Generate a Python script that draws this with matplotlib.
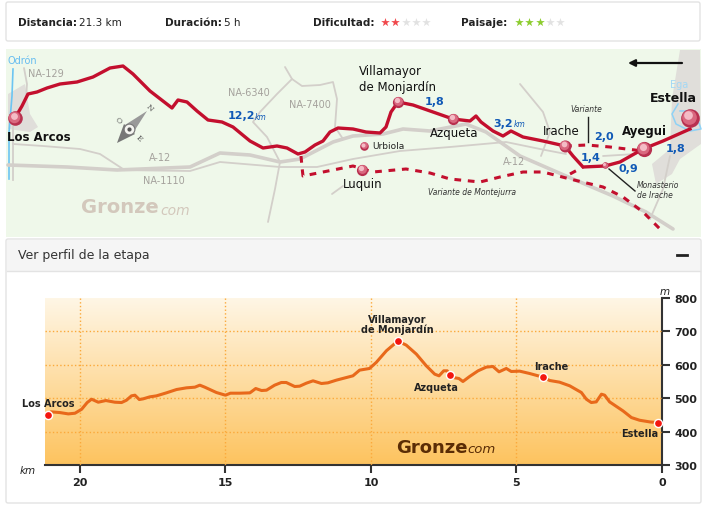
import numpy as np
import matplotlib
matplotlib.use("Agg")
import matplotlib.pyplot as plt
from matplotlib.patches import FancyBboxPatch, Rectangle, Polygon

W, H = 706, 510

# elevation profile, distance to Estella [km] and altitude [m]
profile_km = [20.97, 20.69, 20.40, 20.17, 19.94, 19.75, 19.60, 19.37, 19.11, 18.80, 18.57, 18.40, 18.23,
              18.11, 17.96, 17.83, 17.60, 17.37, 17.03, 16.68, 16.34, 16.05, 15.88, 15.71, 15.31, 15.00,
              14.83, 14.51, 14.16, 13.96, 13.76, 13.59, 13.31, 13.08, 12.91, 12.62, 12.45, 12.22, 11.99,
              11.70, 11.48, 11.19, 10.62, 10.39, 10.05, 9.82, 9.47, 9.08, 8.79, 8.44, 8.10, 7.81, 7.66,
              7.50, 7.38, 7.30, 7.18, 6.98, 6.84, 6.61, 6.32, 6.04, 5.81, 5.60, 5.35, 5.18, 4.89, 4.55,
              4.09, 3.86, 3.52, 3.17, 2.77, 2.60, 2.43, 2.26, 2.08, 1.97, 1.80, 1.34, 1.05, 0.77, 0.42, 0.14]
profile_m = [459, 457, 453, 455, 467, 487, 497, 488, 493, 488, 487, 494, 507,
             509, 496, 498, 504, 507, 516, 526, 531, 533, 539, 533, 517, 509,
             515, 515, 516, 529, 523, 524, 539, 547, 547, 535, 536, 545, 552,
             544, 546, 554, 567, 584, 589, 607, 642, 671, 659, 632, 597, 572, 567,
             582, 582, 570, 562, 559, 550, 565, 582, 593, 595, 579, 589, 580, 581, 574,
             563, 553, 548, 537, 517, 497, 487, 489, 512, 509, 489, 462, 442, 434, 429, 427]
stop_km = [21.09, 9.08, 7.30, 4.09, 0.14]
stop_m = [449, 671, 570, 563, 427]
km_ticks = [20, 15, 10, 5, 0]
m_ticks = [300, 400, 500, 600, 700, 800]

# map lines in picture pixels
route_x = [15, 22, 28, 37, 47, 60, 77, 93, 110, 123, 133, 150, 172, 178, 187, 197, 208, 222, 233, 250, 263,
           277, 287, 298, 305, 315, 323, 330, 338, 353, 366, 380, 386, 391, 398, 413, 433, 453, 470, 476,
           481, 493, 503, 511, 523, 543, 565, 573, 583, 605, 620, 643, 663, 690]
route_y = [119, 107, 95, 93, 89, 85, 83, 78, 69, 67, 75, 92, 109, 101, 103, 112, 121, 123, 128, 142, 149,
           147, 149, 155, 153, 146, 142, 133, 129, 130, 133, 134, 128, 113, 103, 106, 113, 120, 122, 117,
           123, 132, 137, 132, 138, 142, 147, 157, 168, 167, 163, 150, 142, 130]
montejurra_x = [301, 302, 303, 353, 373, 406, 430, 450, 480, 500, 523, 543, 570, 603, 623, 643, 660]
montejurra_y = [157, 168, 177, 167, 173, 170, 174, 180, 183, 178, 173, 173, 180, 188, 198, 213, 230]
variante_x = [565, 587, 610, 643]
variante_y = [147, 146, 148, 152]
link_x = [570, 583]
link_y = [175, 168]
a12_x = [8, 67, 117, 190, 220, 250, 280, 300, 333, 353, 383, 403, 430, 466, 486, 520, 566, 613, 646, 673]
a12_y = [166, 168, 171, 168, 154, 156, 163, 160, 143, 137, 135, 130, 132, 125, 133, 157, 177, 197, 213, 230]
na1110_x = [117, 190, 220, 280, 317, 353, 400, 450, 506, 540, 566]
na1110_y = [171, 172, 163, 168, 168, 160, 152, 148, 143, 150, 155]
upper_x = [13, 43, 80, 100, 123]
upper_y = [145, 147, 150, 155, 170]
na129_x = [24, 27, 26]
na129_y = [69, 85, 100]
na6340_x = [285, 292, 277, 260, 253, 267, 280, 275, 268]
na6340_y = [68, 80, 95, 113, 123, 138, 163, 190, 223]
na7400_x = [292, 302, 320, 333, 337, 335, 343]
na7400_y = [80, 87, 86, 83, 100, 128, 140]
urbiola_x = [332, 343]
urbiola_y = [195, 187]
forest_x = [520, 543, 550, 541]
forest_y = [85, 113, 133, 157]
east_x = [670, 663, 650]
east_y = [157, 190, 220]
ayegui_x = [603, 636]
ayegui_y = [157, 155]
los_arcos_x = [8, 25, 30, 38, 30, 8]
los_arcos_y = [95, 85, 115, 128, 133, 130]
estella_x = [680, 700, 701, 680, 672, 656, 652, 670, 672]
estella_y = [51, 51, 145, 160, 175, 185, 165, 150, 100]

fig = plt.figure(figsize=(W / 100, H / 100), dpi=100, facecolor="white")
bg = fig.add_axes([0, 0, 1, 1])
bg.set_xlim(0, W)
bg.set_ylim(H, 0)
bg.axis("off")


def panel(x0, y0, x1, y1, fc="white"):
    bg.add_patch(FancyBboxPatch((x0, y0), x1 - x0, y1 - y0, boxstyle="round,pad=0,rounding_size=2",
                                fc=fc, ec="#e3e3e3", lw=1))


def ball(x, y, size):
    bg.scatter([x], [y], s=size, color="#b8304f", zorder=6, lw=0)
    bg.scatter([x - 0.06 * size ** 0.5], [y - 0.1 * size ** 0.5], s=size * 0.62, color="#d9687f", zorder=7, lw=0)
    bg.scatter([x - 0.12 * size ** 0.5], [y - 0.2 * size ** 0.5], s=size * 0.22, color="#f4bcc6", zorder=8, lw=0)


# header box
panel(6, 3, 700, 42)
row = dict(fontsize=7.5, va="center", color="#222222")
bg.text(18, 23, "Distancia:", fontweight="bold", **row)
bg.text(79, 23, "21.3 km", **row)
bg.text(165, 23, "Duración:", fontweight="bold", **row)
bg.text(224, 23, "5 h", **row)
bg.text(313, 23, "Dificultad:", fontweight="bold", **row)
bg.text(461, 23, "Paisaje:", fontweight="bold", **row)
for i in range(5):
    bg.scatter([385 + i * 10.3], [22.5], marker="*", s=42, lw=0, color="#f0484c" if i < 2 else "#e2e2e2")
    bg.scatter([519 + i * 10.3], [22.5], marker="*", s=42, lw=0, color="#8ccc2e" if i < 3 else "#e2e2e2")

# map
bg.add_patch(Rectangle((6, 50), 695, 188, fc="#eff8ea", ec="none"))
grey = "#d3cfca"
bg.add_patch(Polygon(np.column_stack([los_arcos_x, los_arcos_y]), fc="#e0deda", ec="none"))
bg.add_patch(Polygon(np.column_stack([estella_x, estella_y]), fc="#e0deda", ec="none"))
bg.plot([13, 12, 9, 9], [70, 97, 133, 180], color="#6cc5f2", lw=1.2)
bg.plot([13, 13], [120, 181], color=grey, lw=1.3)
bg.plot([678, 672, 676, 690, 701, 695, 680], [105, 115, 125, 132, 130, 112, 112], color="#8fd2f5", lw=1.1)
bg.plot(a12_x, a12_y, color=grey, lw=2.6, solid_capstyle="round")
for xs, ys in [(na1110_x, na1110_y), (upper_x, upper_y), (na129_x, na129_y), (na6340_x, na6340_y),
               (na7400_x, na7400_y), (urbiola_x, urbiola_y), (forest_x, forest_y), (east_x, east_y),
               (ayegui_x, ayegui_y)]:
    bg.plot(xs, ys, color=grey, lw=1.3, solid_capstyle="round")

red = "#c30f2e"
bg.plot(route_x, route_y, color=red, lw=2.4, solid_joinstyle="round", zorder=4)
dash = dict(color=red, lw=2.2, linestyle=(0, (2.2, 2.2)), zorder=4)
bg.plot(montejurra_x, montejurra_y, **dash)
bg.plot(variante_x, variante_y, **dash)
bg.plot(link_x, link_y, **dash)

ball(15, 119, 110)
ball(398, 103, 65)
ball(453, 120, 65)
ball(565, 147, 75)
ball(644, 150, 120)
ball(690, 119, 180)
ball(605, 166, 22)
ball(364, 147, 38)
ball(362, 171, 65)

for x, y, s in [(46, 74, "NA-129"), (249, 93, "NA-6340"), (310, 105, "NA-7400"), (160, 158, "A-12"),
                (164, 181, "NA-1110"), (514, 162, "A-12")]:
    bg.text(x, y, s, fontsize=7, ha="center", va="center", color="#a5a29d")
bg.text(7, 61, "Odrón", fontsize=7, va="center", color="#67bdf0")
bg.text(679, 85, "Ega", fontsize=7, ha="center", va="center", color="#a3d8f5")
for x, y, s, kw in [(7, 138, "Los Arcos", dict(fontweight="bold")),
                    (650, 99, "Estella", dict(fontweight="bold", fontsize=9)),
                    (622, 132, "Ayegui", dict(fontweight="bold")),
                    (359, 72, "Villamayor", {}), (359, 87, "de Monjardín", {}),
                    (430, 134, "Azqueta", {}), (543, 132, "Irache", {}), (343, 185, "Luquin", {})]:
    bg.text(x, y, s, **{"fontsize": 8.5, "va": "center", "color": "#111111", **kw})
bg.text(372, 147, "Urbiola", fontsize=6.5, va="center", color="#222222")

for x, y, s in [(435, 102, "1,8"), (503, 124, "3,2"), (241, 116, "12,2"), (604, 137, "2,0"),
                (591, 158, "1,4"), (628, 169, "0,9"), (676, 149, "1,8")]:
    bg.text(x, y, s, fontsize=8, fontweight="bold", ha="center", va="center", color="#1059b6")
bg.text(255, 117, "km", fontsize=5.5, style="italic", va="center", color="#1059b6")
bg.text(514, 124.5, "km", fontsize=5.5, style="italic", va="center", color="#1059b6")
note = dict(fontsize=5.5, style="italic", va="center", color="#333333")
bg.text(570, 110, "Variante", **note)
bg.text(428, 193, "Variante de Montejurra", **note)
bg.text(637, 186, "Monasterio", **note)
bg.text(637, 196, "de Irache", **note)
bg.plot([588, 588], [118, 143], color="#222222", lw=1)
bg.plot([609, 635], [170, 192], color="#222222", lw=1)
bg.annotate("", xy=(628, 64), xytext=(682, 64),
            arrowprops=dict(arrowstyle="-|>", color="#111111", lw=1.6, shrinkA=0, shrinkB=0))

# compass
bg.add_patch(Polygon([(117, 144), (124, 125), (135, 135)], fc="#777777", ec="none"))
bg.add_patch(Polygon([(147, 112), (125, 126), (133, 134)], fc="#999999", ec="none"))
bg.scatter([129], [130], s=60, color="#f4f4f0", edgecolors="#777777", linewidths=0.8, zorder=5)
bg.scatter([129], [130], s=4, color="#555555", zorder=6)
for x, y, s in [(149, 108, "N"), (118, 121, "O"), (139, 139, "E")]:
    bg.text(x, y, s, fontsize=5.5, ha="center", va="center", color="#555555", rotation=-45, family="DejaVu Serif")

bg.text(81, 208, "Gronze", fontsize=14, fontweight="bold", va="center", color="#d3c8bc")
bg.text(160, 211, "com", fontsize=10, style="italic", va="center", color="#d3c8bc")

# lower box
panel(6, 240, 701, 504)
bg.add_patch(Rectangle((7, 241), 693, 31, fc="#f5f5f5", ec="none"))
bg.plot([7, 700], [272, 272], color="#e3e3e3", lw=1)
bg.text(18, 256, "Ver perfil de la etapa", fontsize=9, va="center", color="#333333")
bg.plot([677, 687], [256, 256], color="#222222", lw=2)

# profile chart
ax = fig.add_axes([45 / W, 1 - 466 / H, (662 - 45) / W, (466 - 299) / H])
ax.set_xlim(21.2, 0)
ax.set_ylim(300, 800)
gradient = np.linspace(0, 1, 256).reshape(-1, 1, 1)
top = np.array([1.0, 0.965, 0.90]).reshape(1, 1, 3)
bottom = np.array([0.992, 0.765, 0.37]).reshape(1, 1, 3)
ax.imshow(top + (bottom - top) * gradient, extent=(21.2, 0, 300, 800), aspect="auto", zorder=0)
ax.set_xticks(km_ticks)
ax.set_yticks(m_ticks)
ax.grid(True, color="#fba93a", linestyle=":", linewidth=1)
ax.set_axisbelow(False)
ax.yaxis.tick_right()
# no grid on the frame itself
ax.get_ygridlines()[0].set_visible(False)
ax.get_ygridlines()[-1].set_visible(False)
ax.get_xgridlines()[-1].set_visible(False)
for side in ["top", "left"]:
    ax.spines[side].set_visible(False)
for side in ["right", "bottom"]:
    ax.spines[side].set_color("#333333")
    ax.spines[side].set_linewidth(1.5)
ax.tick_params(axis="both", length=6, width=1.5, color="#333333", labelcolor="#222222", labelsize=8, pad=3)
for lab in ax.get_xticklabels() + ax.get_yticklabels():
    lab.set_fontweight("bold")
ax.plot(profile_km, profile_m, color="#e8691b", lw=2.2, zorder=3, solid_joinstyle="round")
ax.scatter(stop_km, stop_m, s=34, color="#f4160f", edgecolors="white", linewidths=1, zorder=4, clip_on=False)
label = dict(fontsize=7, fontweight="bold", ha="center", va="center", color="#222222", zorder=5, clip_on=False)
ax.text(21.1, 486, "Los Arcos", **label)
ax.text(9.1, 736, "Villamayor", **label)
ax.text(9.1, 708, "de Monjardín", **label)
ax.text(7.75, 535, "Azqueta", **label)
ax.text(3.8, 596, "Irache", **label)
ax.text(0.77, 395, "Estella", **label)
ax.text(21.8, 285, "km", fontsize=7.5, style="italic", ha="center", va="center", color="#222222", clip_on=False)
ax.text(-0.1, 821, "m", fontsize=7.5, style="italic", ha="center", va="center", color="#222222", clip_on=False)
ax.text(9.14, 355, "Gronze", fontsize=13, fontweight="bold", va="center", color="#5a2c05")
ax.text(6.67, 350, "com", fontsize=9.5, style="italic", va="center", color="#5a2c05")

fig.savefig("out.png", dpi=100)
